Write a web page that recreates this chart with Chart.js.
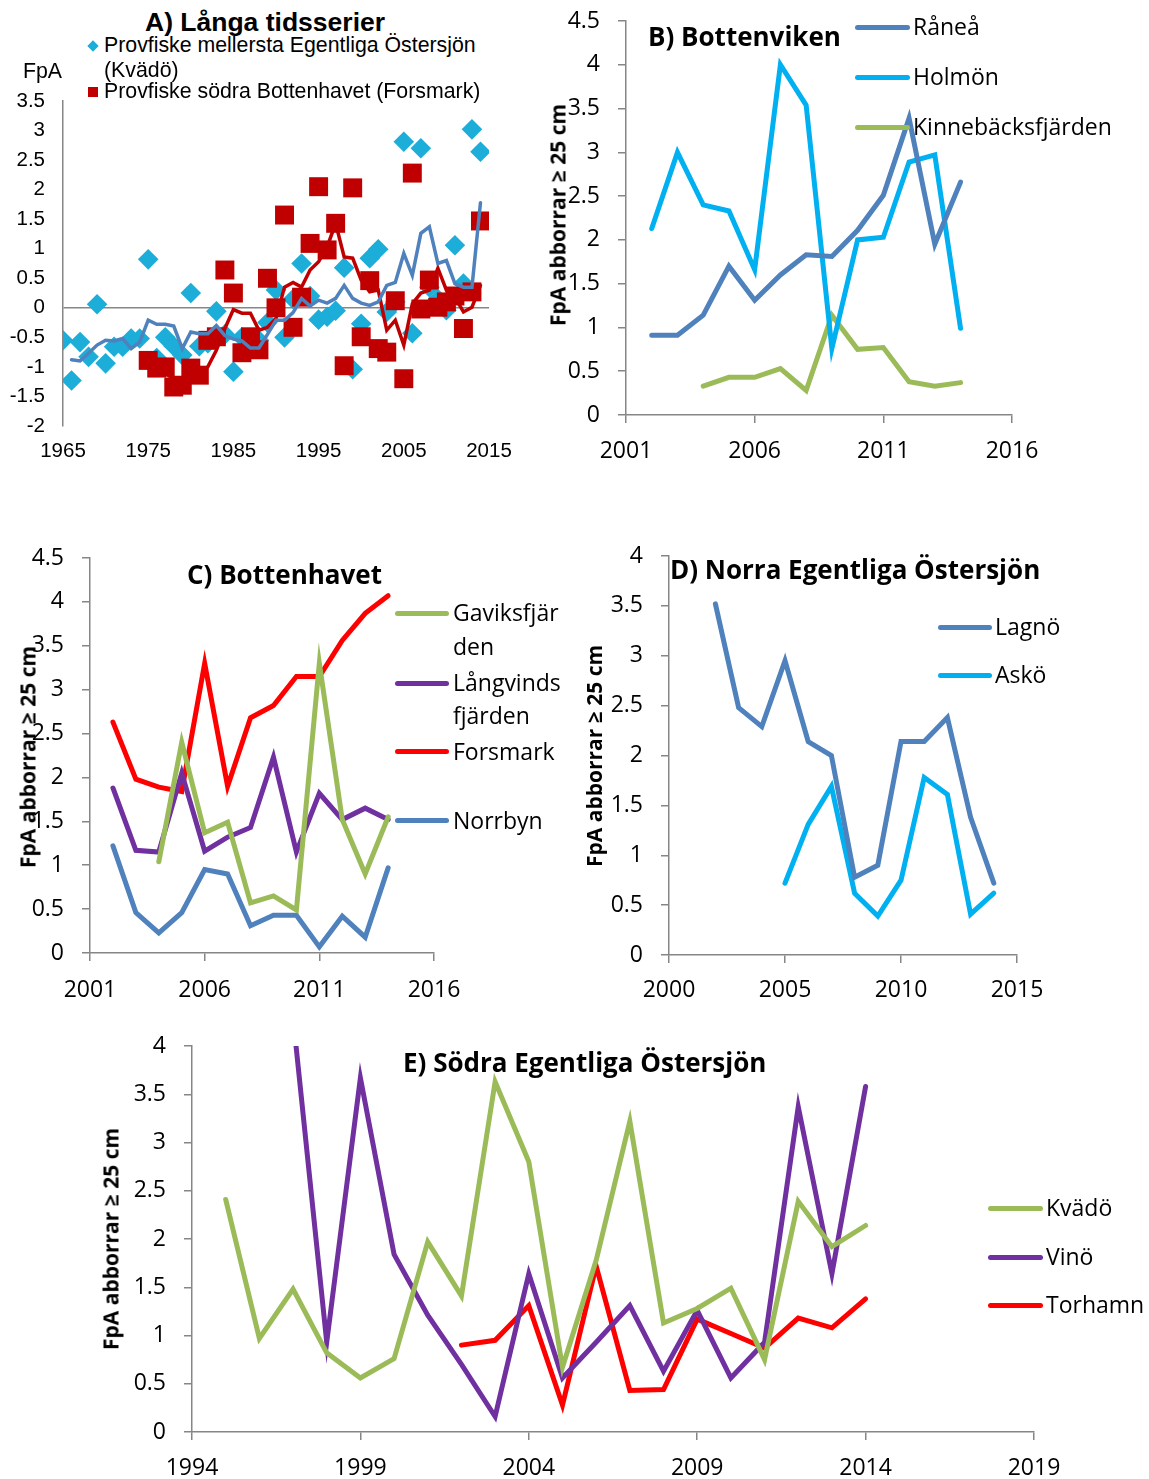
<!DOCTYPE html>
<html>
<head>
<meta charset="utf-8">
<title>FpA abborrar</title>
<script src="https://cdn.jsdelivr.net/npm/chart.js@4.4.0/dist/chart.umd.min.js"></script>
<style>
body { margin:0; background:#fff; }
#page { position:relative; width:1149px; height:1479px; overflow:hidden; font-family:"Open Sans", sans-serif; color:#000; }
canvas { position:absolute; }
.t { position:absolute; white-space:nowrap; line-height:1.2; transform:translateY(-50%); }
.ttl { font-weight:bold; font-size:26px; }
.ax { position:absolute; white-space:nowrap; font-weight:bold; font-size:21px; line-height:1; transform:translate(-50%,-50%) rotate(-90deg); }
.lg { font-size:23px; }
.arial { font-family:"Liberation Sans", Arial, sans-serif; font-size:21.3px; }
.sw { position:absolute; height:5px; border-radius:3px; }
</style>
</head>
<body>
<div id="page">
<canvas id="chA"></canvas>
<canvas id="chB"></canvas>
<canvas id="chC"></canvas>
<canvas id="chD"></canvas>
<canvas id="chE"></canvas>

<!-- A -->
<div class="t arial" style="left:145px;top:23px;font-size:26.5px;font-weight:bold;">A) Långa tidsserier</div>
<div style="position:absolute;left:89px;top:42px;width:8px;height:8px;background:#1CADD8;transform:rotate(45deg);"></div>
<div class="t arial" style="left:104px;top:46px;">Provfiske mellersta Egentliga Östersjön</div>
<div class="t arial" style="left:104px;top:71px;">(Kvädö)</div>
<div style="position:absolute;left:88px;top:87px;width:10px;height:10px;background:#C00000;"></div>
<div class="t arial" style="left:104px;top:92px;">Provfiske södra Bottenhavet (Forsmark)</div>
<div class="t arial" style="left:23px;top:72px;">FpA</div>

<!-- B -->
<div class="t ttl" style="left:648px;top:37px;">B) Bottenviken</div>
<div class="ax" style="left:558px;top:215px;">FpA abborrar ≥ 25 cm</div>
<div class="sw" style="left:855px;width:55px;top:25px;background:#4F81BD;"></div>
<div class="t lg" style="left:913px;top:27px;">Råneå</div>
<div class="sw" style="left:855px;width:55px;top:75px;background:#00B0F0;"></div>
<div class="t lg" style="left:913px;top:77px;">Holmön</div>
<div class="sw" style="left:855px;width:55px;top:125px;background:#9BBB59;"></div>
<div class="t lg" style="left:913px;top:127px;">Kinnebäcksfjärden</div>

<!-- C -->
<div class="t ttl" style="left:187px;top:575px;">C) Bottenhavet</div>
<div class="ax" style="left:28px;top:757px;">FpA abborrar ≥ 25 cm</div>
<div class="sw" style="left:395px;width:54px;top:611px;background:#9BBB59;"></div>
<div class="t lg" style="left:453px;top:613px;">Gaviksfjär</div>
<div class="t lg" style="left:453px;top:647px;">den</div>
<div class="sw" style="left:395px;width:54px;top:681px;background:#7030A0;"></div>
<div class="t lg" style="left:453px;top:683px;">Långvinds</div>
<div class="t lg" style="left:453px;top:716px;">fjärden</div>
<div class="sw" style="left:395px;width:54px;top:749px;background:#FF0000;"></div>
<div class="t lg" style="left:453px;top:752px;">Forsmark</div>
<div class="sw" style="left:395px;width:54px;top:818px;background:#4F81BD;"></div>
<div class="t lg" style="left:453px;top:821px;">Norrbyn</div>

<!-- D -->
<div class="t ttl" style="left:670px;top:570px;">D) Norra Egentliga Östersjön</div>
<div class="ax" style="left:594px;top:756px;">FpA abborrar ≥ 25 cm</div>
<div class="sw" style="left:938px;width:54px;top:625px;background:#4F81BD;"></div>
<div class="t lg" style="left:995px;top:627px;">Lagnö</div>
<div class="sw" style="left:938px;width:54px;top:673px;background:#00B0F0;"></div>
<div class="t lg" style="left:995px;top:675px;">Askö</div>

<!-- E -->
<div class="t ttl" style="left:403px;top:1063px;">E) Södra Egentliga Östersjön</div>
<div class="ax" style="left:111px;top:1239px;">FpA abborrar ≥ 25 cm</div>
<div class="sw" style="left:988px;width:55px;top:1206px;background:#9BBB59;"></div>
<div class="t lg" style="left:1046px;top:1208px;">Kvädö</div>
<div class="sw" style="left:988px;width:55px;top:1255px;background:#7030A0;"></div>
<div class="t lg" style="left:1046px;top:1257px;">Vinö</div>
<div class="sw" style="left:988px;width:55px;top:1303px;background:#FF0000;"></div>
<div class="t lg" style="left:1046px;top:1305px;">Torhamn</div>
</div>

<script>
// A) long time series
var aYears = [1965,1966,1967,1968,1969,1970,1971,1972,1973,1974,
              1975,1976,1977,1978,1979,1980,1981,1982,1983,1984,
              1985,1986,1987,1988,1989,1990,1991,1992,1993,1994,
              1995,1996,1997,1998,1999,2000,2001,2002,2003,2004,
              2005,2006,2007,2008,2009,2010,2011,2012,2013,2014];
var kvadoA = [-0.55,-1.23,-0.58,-0.83,0.06,-0.94,-0.66,-0.66,-0.52,-0.52,
              0.82,-0.85,-0.5,-0.65,-0.8,0.25,-0.65,-0.6,-0.06,-0.45,
              -1.08,-0.5,-0.65,-0.55,-0.25,0.3,-0.5,0.15,0.75,0.2,
              -0.2,-0.15,-0.05,0.68,-1.04,-0.27,0.84,0.99,-0.07,0.1,
              2.81,-0.43,2.7,0.35,0.15,-0.04,1.06,0.41,3.02,2.64];
var forsmarkA = [null,null,null,null,null,null,null,null,null,null,
              -0.89,-1.02,-1.0,-1.34,-1.31,-1.02,-1.14,-0.55,-0.49,0.64,
              0.25,-0.76,-0.49,-0.71,0.5,0.0,1.57,-0.33,0.18,1.09,
              2.05,0.98,1.43,-0.98,2.03,-0.49,0.46,-0.69,-0.75,0.12,
              -1.2,2.28,-0.02,0.47,0.01,0.1,0.2,-0.35,0.27,1.47];
var kvadoAvgA = [null,-0.88,-0.9,-0.77,-0.63,-0.55,-0.56,-0.52,-0.69,-0.58,
              -0.21,-0.28,-0.28,-0.31,-0.69,-0.41,-0.44,-0.44,-0.3,-0.47,
              -0.53,-0.56,-0.68,-0.68,-0.45,-0.21,-0.21,-0.08,0.16,0.03,
              0.13,0.08,0.16,0.38,0.16,0.08,0.04,0.1,0.38,0.43,
              0.92,0.55,1.26,1.37,0.75,0.8,0.41,0.35,0.35,1.78];
var forsmarkAvgA = [null,null,null,null,null,null,null,null,null,null,
              null,null,-1.11,-1.2,-1.23,-1.17,-1.1,-1.0,-0.72,-0.35,
              -0.03,-0.09,-0.09,-0.38,-0.33,-0.18,0.35,0.43,0.35,0.64,
              0.78,1.03,1.43,0.86,0.84,0.47,0.27,0.3,-0.38,-0.21,
              -0.63,0.07,0.25,0.3,0.67,0.3,0.18,-0.07,0.01,0.38];
var aXTicks = [1965,1975,1985,1995,2005,2015];
var aYTicks = [-2,-1.5,-1,-0.5,0,0.5,1,1.5,2,2.5,3,3.5];

// B) Bottenviken
var bYears = [2002,2003,2004,2005,2006,2007,2008,2009,2010,2011,2012,2013,2014];
var raneaB = [0.91,0.91,1.14,1.70,1.31,1.60,1.83,1.81,2.11,2.51,3.39,1.95,2.66];
var holmonB = [2.13,3.00,2.40,2.33,1.66,4.00,3.54,0.76,2.00,2.03,2.89,2.97,0.99];
var kinneB = [null,null,0.33,0.43,0.43,0.53,0.28,1.14,0.75,0.77,0.38,0.33,0.37];
var bXTicks = [2001,2006,2011,2016];
var bYTicks = [0,0.5,1,1.5,2,2.5,3,3.5,4,4.5];

// C) Bottenhavet
var cYears = [2002,2003,2004,2005,2006,2007,2008,2009,2010,2011,2012,2013,2014];
var gavikC = [null,null,1.04,2.40,1.37,1.49,0.57,0.65,0.49,3.30,1.52,0.90,1.55];
var langvC = [1.88,1.17,1.15,2.05,1.16,1.32,1.43,2.23,1.15,1.82,1.52,1.65,1.52];
var forsmC = [2.63,1.98,1.89,1.84,3.30,1.90,2.68,2.82,3.15,3.15,3.56,3.87,4.07];
var norrbC = [1.22,0.46,0.23,0.46,0.95,0.90,0.31,0.43,0.43,0.07,0.42,0.18,0.97];
var cXTicks = [2001,2006,2011,2016];
var cYTicks = [0,0.5,1,1.5,2,2.5,3,3.5,4,4.5];

// D) Norra Egentliga Östersjön
var dYears = [2002,2003,2004,2005,2006,2007,2008,2009,2010,2011,2012,2013,2014];
var lagnoD = [3.52,2.48,2.29,2.95,2.14,2.00,0.78,0.90,2.14,2.14,2.38,1.38,0.72];
var askoD = [null,null,null,0.72,1.31,1.69,0.62,0.39,0.75,1.78,1.61,0.41,0.62];
var dXTicks = [2000,2005,2010,2015];
var dYTicks = [0,0.5,1,1.5,2,2.5,3,3.5,4];

// E) Södra Egentliga Östersjön
var eYears = [1995,1996,1997,1998,1999,2000,2001,2002,2003,2004,
              2005,2006,2007,2008,2009,2010,2011,2012,2013,2014];
var kvadoE = [2.41,0.97,1.48,0.82,0.56,0.76,1.97,1.41,3.63,2.80,
              0.67,1.78,3.22,1.13,1.28,1.49,0.75,2.39,1.92,2.14];
var vinoE = [null,null,4.3,0.93,3.67,1.84,1.21,0.70,0.16,1.64,
              0.56,0.93,1.31,0.63,1.26,0.56,0.93,3.37,1.64,3.58];
var torhE = [null,null,null,null,null,null,null,0.90,0.95,1.31,
              0.28,1.72,0.43,0.44,1.17,1.02,0.87,1.18,1.08,1.38];
var eXTicks = [1994,1999,2004,2009,2014,2019];
var eYTicks = [0,0.5,1,1.5,2,2.5,3,3.5,4];

var GRAY = '#868686';
var BLUE = '#4F81BD', CYAN = '#00B0F0', GREEN = '#9BBB59', PURPLE = '#7030A0', RED = '#FF0000';

function pts(years, vals) {
  var out = [];
  for (var i = 0; i < years.length; i++) {
    if (vals[i] !== null) out.push({x: years[i], y: vals[i]});
  }
  return out;
}

function line(years, vals, color, w) {
  return {data: pts(years, vals), borderColor: color, backgroundColor: color, borderWidth: w || 5,
          pointRadius: 0, fill: false, tension: 0, borderCapStyle: 'round'};
}

// box = [left, top, right, bottom] of the plot area on the page
function makeChart(id, box, xr, yr, sets, o) {
  var padL = 70, padT = 40, padR = 50, padB = 50;
  var c = document.getElementById(id);
  var w = box[2] - box[0] + padL + padR, h = box[3] - box[1] + padT + padB;
  c.style.left = (box[0] - padL) + 'px';
  c.style.top = (box[1] - padT) + 'px';
  c.width = w; c.height = h;
  c.style.width = w + 'px'; c.style.height = h + 'px';
  var font = o.font;
  return new Chart(c, {
    type: 'line',
    data: {datasets: sets},
    options: {
      responsive: false, animation: false,
      layout: {padding: {left: 0, top: padT, right: padR, bottom: 0}},
      plugins: {legend: {display: false}, tooltip: {enabled: false}},
      scales: {
        x: {
          type: 'linear', min: xr[0], max: xr[xr.length - 1],
          afterBuildTicks: function (s) { s.ticks = xr.map(function (v) { return {value: v}; }); },
          afterFit: function (s) { s.height = padB; },
          border: {display: o.xBorder, color: GRAY, width: 1.5},
          grid: {display: o.xBorder, drawOnChartArea: false, drawTicks: o.xBorder, tickLength: 8, color: GRAY, lineWidth: 1.5},
          ticks: {autoSkip: false, maxRotation: 0, padding: o.xPad, color: '#000', font: font,
                  callback: function (v) { return String(v); }}
        },
        y: {
          min: yr[0], max: yr[yr.length - 1],
          afterBuildTicks: function (s) { s.ticks = yr.map(function (v) { return {value: v}; }); },
          afterFit: function (s) { s.width = padL; },
          border: {display: true, color: GRAY, width: 1.5},
          grid: o.yGrid || {drawOnChartArea: false, drawTicks: true, tickLength: 8, color: GRAY, lineWidth: 1.5},
          ticks: {autoSkip: false, padding: 18, color: '#000', font: font,
                  callback: function (v) { return String(v); }}
        }
      }
    }
  });
}

var calibri = {family: 'Open Sans', size: 23};
var arial = {family: 'Liberation Sans', size: 20.5};

// A
var aSets = [
  line(aYears, kvadoAvgA, BLUE, 3.5),
  line(aYears, forsmarkAvgA, '#C00000', 3.5),
  {data: pts(aYears, forsmarkA), showLine: false, pointStyle: 'rect', pointRadius: 13.4,
   pointBackgroundColor: '#C00000', pointBorderWidth: 0, borderColor: '#C00000'},
  {data: pts(aYears, kvadoA), showLine: false, pointStyle: 'rectRot', pointRadius: 10.3,
   pointBackgroundColor: '#1CADD8', pointBorderWidth: 0, borderColor: '#1CADD8'}
];
makeChart('chA', [63, 101, 489, 426], aXTicks, aYTicks, aSets, {
  font: arial, xBorder: false, xPad: 13,
  yGrid: {drawTicks: false, lineWidth: 1.5,
          color: function (ctx) { return ctx.tick && ctx.tick.value === 0 ? GRAY : 'rgba(0,0,0,0)'; }}
});

// B
makeChart('chB', [626, 21, 1012, 415], bXTicks, bYTicks, [
  line(bYears, raneaB, BLUE),
  line(bYears, holmonB, CYAN),
  line(bYears, kinneB, GREEN)
], {font: calibri, xBorder: true, xPad: 15});

// C
makeChart('chC', [90, 558, 434, 953], cXTicks, cYTicks, [
  line(cYears, gavikC, GREEN),
  line(cYears, langvC, PURPLE),
  line(cYears, forsmC, RED),
  line(cYears, norrbC, BLUE)
], {font: calibri, xBorder: true, xPad: 16});

// D
makeChart('chD', [669, 556, 1017, 955], dXTicks, dYTicks, [
  line(dYears, lagnoD, BLUE),
  line(dYears, askoD, CYAN)
], {font: calibri, xBorder: true, xPad: 14});

// E
makeChart('chE', [192, 1046, 1034, 1432], eXTicks, eYTicks, [
  line(eYears, kvadoE, GREEN),
  line(eYears, vinoE, PURPLE),
  line(eYears, torhE, RED)
], {font: calibri, xBorder: true, xPad: 15});
</script>
</body>
</html>
